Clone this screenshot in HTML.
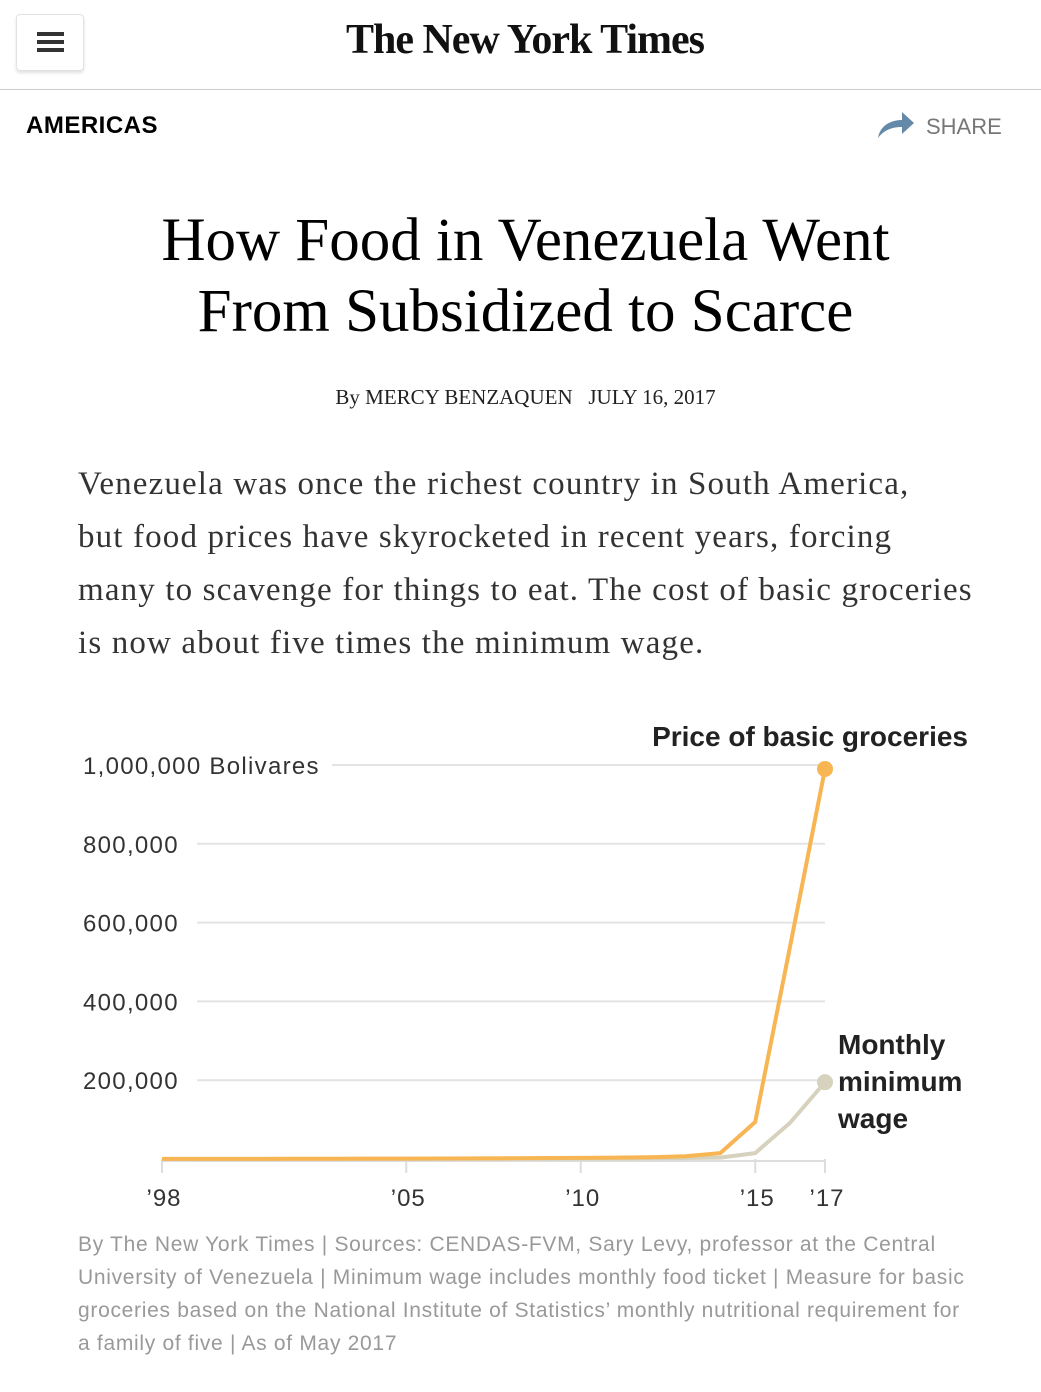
<!DOCTYPE html>
<html><head><meta charset="utf-8">
<style>
body{margin:0;width:1041px;height:1392px;background:#fff;position:relative;overflow:hidden;font-family:"Liberation Sans",sans-serif}
.abs{position:absolute}
</style></head><body>
<div class="abs" style="left:16px;top:14px;width:66px;height:55px;border:1px solid #e2e2e2;border-radius:4px;box-shadow:0 2px 3px rgba(0,0,0,.12)">
 <div style="position:absolute;left:20px;top:17px;width:27px;height:4px;background:#333"></div>
 <div style="position:absolute;left:20px;top:25px;width:27px;height:4px;background:#333"></div>
 <div style="position:absolute;left:20px;top:33px;width:27px;height:4px;background:#333"></div>
</div>
<div class="abs" style="left:320px;top:16px;width:410px;text-align:center;font-family:'Liberation Serif',serif;font-weight:bold;font-size:42px;letter-spacing:-1px;color:#111">The New York Times</div>
<div class="abs" style="left:0;top:89px;width:1041px;height:1px;background:#ccc"></div>
<div class="abs" style="left:26px;top:112px;font-size:24px;font-weight:bold;color:#000;letter-spacing:0.5px">AMERICAS</div>
<svg class="abs" style="left:876px;top:108px" width="40" height="32"><path d="M2 30 C4 18 14 12 26 12 L26 4 L38 15 L26 26 L26 19 C16 19 8 22 2 30Z" fill="#6589a8"/></svg>
<div class="abs" style="left:926px;top:114px;font-size:22px;color:#777">SHARE</div>
<div class="abs" style="left:0;top:205px;width:1051px;text-align:center;font-family:'Liberation Serif',serif;font-size:61px;line-height:71px;color:#000">How Food in Venezuela Went<br>From Subsidized to Scarce</div>
<div class="abs" style="left:0;top:385px;width:1051px;text-align:center;font-family:'Liberation Serif',serif;font-size:21px;color:#222">By MERCY BENZAQUEN &nbsp;&nbsp;JULY 16, 2017</div>
<div class="abs" style="left:78px;top:458px;width:960px;white-space:nowrap;font-family:'Liberation Serif',serif;font-size:33px;letter-spacing:1.15px;line-height:53px;color:#333">Venezuela was once the richest country in South America,<br>but food prices have skyrocketed in recent years, forcing<br>many to scavenge for things to eat. The cost of basic groceries<br>is now about five times the minimum wage.</div>
<svg class="abs" id="chart" style="left:0;top:700px" width="1041" height="530"></svg>
<div class="abs" style="left:78px;top:1228px;width:960px;white-space:nowrap;font-size:21px;letter-spacing:0.7px;line-height:33px;color:#999">By The New York Times | Sources: CENDAS-FVM, Sary Levy, professor at the Central<br>University of Venezuela | Minimum wage includes monthly food ticket | Measure for basic<br>groceries based on the National Institute of Statistics’ monthly nutritional requirement for<br>a family of five | As of May 2017</div>
<script>
const years=[1998,1999,2000,2001,2002,2003,2004,2005,2006,2007,2008,2009,2010,2011,2012,2013,2014,2015,2016,2017];
const groceries=[300,350,400,450,550,700,900,1100,1300,1600,2000,2400,2900,3500,4500,7000,15000,94000,540000,990000];
const wage=[150,170,190,210,250,300,380,460,550,650,800,950,1200,1500,1900,2600,3500,15000,92000,195000];
const yTicks=[200000,400000,600000,800000,1000000];
const yTickLabels=["200,000","400,000","600,000","800,000","1,000,000 Bolivares"];
const xTicks=[1998,2005,2010,2015,2017];
const xTickLabels=["’98","’05","’10","’15","’17"];
const svg=document.getElementById('chart');const NS='http://www.w3.org/2000/svg';
const X=y=>162+(y-1998)*(663/19);
const Y=v=>459-v*(394/1000000);
function mk(t,a,p){const e=document.createElementNS(NS,t);for(const k in a)e.setAttribute(k,a[k]);(p||svg).appendChild(e);return e;}
yTicks.forEach((v,i)=>{
 const last=i===yTicks.length-1;
 const g=mk('line',{x1:last?332:197,x2:825,y1:Y(v),y2:Y(v),stroke:'#e4e4e4','stroke-width':2});
 
 
 const t=mk('text',{x:83,y:Y(v)+9,'font-size':24,'letter-spacing':1.3,fill:'#333','font-family':'Liberation Sans, sans-serif'});
 t.textContent=yTickLabels[i];
 
 
});
const base=mk('line',{x1:162,x2:825,y1:Y(0)+2,y2:Y(0)+2,stroke:'#ddd','stroke-width':2});


xTicks.forEach((v,i)=>{
 const l=mk('line',{x1:X(v),x2:X(v),y1:Y(0),y2:Y(0)+14,stroke:'#ddd','stroke-width':2});
 
 
 const t=mk('text',{x:X(v)+2,y:Y(0)+47,'font-size':24,'letter-spacing':1,fill:'#333','text-anchor':'middle','font-family':'Liberation Sans, sans-serif'});
 t.textContent=xTickLabels[i];
 
 
});
function series(vals,color,name){
 const p=mk('polyline',{points:years.map((y,i)=>X(y)+','+Y(vals[i])).join(' '),fill:'none',stroke:color,'stroke-width':4,'stroke-linejoin':'round'});
 
 
 const c=mk('circle',{cx:X(years[years.length-1]),cy:Y(vals[vals.length-1]),r:8,fill:color});
 
 
}
series(wage,'#d6d2bd','minimum-wage');
series(groceries,'#f7b553','groceries');
const t1=mk('text',{x:968,y:46,'font-size':28,'font-weight':'bold',fill:'#222','text-anchor':'end','font-family':'Liberation Sans, sans-serif'});
t1.textContent='Price of basic groceries';


['Monthly','minimum','wage'].forEach((s,i)=>{
 const t=mk('text',{x:838,y:354+i*37,'font-size':28,'font-weight':'bold',fill:'#222','font-family':'Liberation Sans, sans-serif'});
 t.textContent=s;
 
 
});
</script>
</body></html>
